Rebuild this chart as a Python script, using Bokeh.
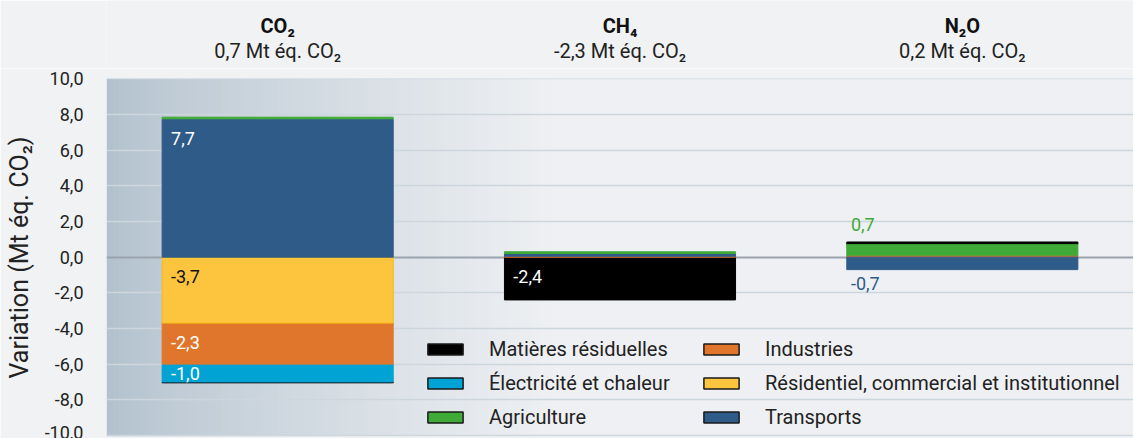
from bokeh.plotting import figure
from bokeh.layouts import column
from bokeh.models import Range1d, FixedTicker, Legend, LegendItem
from bokeh.core.properties import value
from bokeh.embed import file_html
from bokeh.resources import INLINE

# ---------------- data ----------------
gases = ["CO₂", "CH₄", "N₂O"]
gas_totals = [0.7, -2.3, 0.2]
sectors = ["Matières résiduelles", "Électricité et chaleur", "Agriculture",
           "Industries", "Résidentiel, commercial et institutionnel", "Transports"]
matieres = [-0.05, -2.4, 0.15]
electricite = [-1.0, 0.0, 0.0]
agriculture = [0.15, 0.15, 0.65]
industries = [-2.3, 0.05, 0.05]
residentiel = [-3.7, 0.0, 0.0]
transports = [7.7, 0.1, -0.7]
y_ticks = [-10, -8, -6, -4, -2, 0, 2, 4, 6, 8, 10]

values = {
    "Matières résiduelles": matieres,
    "Électricité et chaleur": electricite,
    "Agriculture": agriculture,
    "Industries": industries,
    "Résidentiel, commercial et institutionnel": residentiel,
    "Transports": transports,
}
colors = {
    "Matières résiduelles": "#000000",
    "Électricité et chaleur": "#00a3d4",
    "Agriculture": "#3faa37",
    "Industries": "#e0762b",
    "Résidentiel, commercial et institutionnel": "#fdc43e",
    "Transports": "#2f5b88",
}
edge_colors = dict(colors)
edge_colors["Résidentiel, commercial et institutionnel"] = "#f6bb12"
label_colors = {s: "#ffffff" for s in sectors}
label_colors["Résidentiel, commercial et institutionnel"] = "#111111"

pos_order = ["Industries", "Transports", "Agriculture", "Matières résiduelles",
             "Électricité et chaleur", "Résidentiel, commercial et institutionnel"]
neg_order = ["Résidentiel, commercial et institutionnel", "Industries",
             "Électricité et chaleur", "Matières résiduelles", "Transports", "Agriculture"]

FONT = "Roboto"
BG = "#f0f2f4"
BAR_W = 0.675
xs = [0.5, 1.5, 2.5]
Y_LO, Y_HI = -10.06, 10.02
x_range = Range1d(0, 3)

# ---------------- header strip ----------------
h = figure(frame_width=1027, frame_height=68, min_border_left=106, min_border_right=0,
           min_border_top=0, min_border_bottom=0, x_range=x_range, y_range=Range1d(0, 68),
           output_backend="svg", toolbar_location=None)
h.axis.visible = False
h.grid.visible = False
h.outline_line_color = None
h.border_fill_color = BG
h.background_fill_color = BG
subs = [("%.1f" % v).replace(".", ",") + " Mt éq. CO₂" for v in gas_totals]
h.text(x=xs, y=[43] * 3, text=gases, text_font=value(FONT), text_font_size="20px",
       text_font_style="bold", text_color="#111111", text_align="center", text_baseline="middle")
h.text(x=xs, y=[18] * 3, text=subs, text_font=value(FONT), text_font_size="20px",
       text_color="#222222", text_align="center", text_baseline="middle")

# ---------------- main chart ----------------
p = figure(frame_width=1027, frame_height=358, min_border_left=106, min_border_right=0,
           min_border_top=10, min_border_bottom=2,
           x_range=x_range, y_range=Range1d(Y_LO, Y_HI),
           output_backend="svg", toolbar_location=None)
p.border_fill_color = BG
p.background_fill_color = "#eef0f3"
p.outline_line_color = None

# gradient on the left of the plot area (decoration)
n = 70
c_left = (178, 193, 205)
c_right = (238, 240, 243)
gl, gr, gc = [], [], []
for i in range(n):
    e = (i / n) ** 0.8
    rgb = tuple(int(round(c_left[k] + (c_right[k] - c_left[k]) * e)) for k in range(3))
    gl.append(1.3 * i / n)
    gr.append(1.3 * (i + 1) / n + 0.002)
    gc.append("#%02x%02x%02x" % rgb)
p.quad(left=gl, right=gr, bottom=Y_LO, top=Y_HI, fill_color=gc, line_color=None, level="image")

# axes and grid
p.xaxis.visible = False
p.xgrid.visible = False
p.yaxis.ticker = FixedTicker(ticks=y_ticks)
p.yaxis.major_label_overrides = {float(t): ("%.1f" % t).replace(".", ",") for t in y_ticks}
p.yaxis.major_label_text_font = FONT
p.yaxis.major_label_text_font_size = "18px"
p.yaxis.major_label_text_color = "#222222"
p.yaxis.major_label_standoff = 17
p.yaxis.major_tick_line_color = None
p.yaxis.minor_tick_line_color = None
p.yaxis.axis_line_color = None
p.yaxis.axis_label = "Variation (Mt éq. CO₂)"
p.yaxis.axis_label_text_font = FONT
p.yaxis.axis_label_text_font_size = "25px"
p.yaxis.axis_label_text_font_style = "normal"
p.yaxis.axis_label_text_color = "#222222"
p.yaxis.axis_label_standoff = 8
p.ygrid.ticker = FixedTicker(ticks=[t for t in y_ticks if t != 0])
p.ygrid.grid_line_color = "#cdd5dd"
p.ygrid.grid_line_width = 1.5
p.hspan(y=[0], line_color="#9aa3ad", line_width=2)

# stacked bars
pos_base = [0.0, 0.0, 0.0]
neg_base = [0.0, 0.0, 0.0]
segments = {s: [None, None, None] for s in sectors}
for s in pos_order:
    for g in range(3):
        v = values[s][g]
        if v > 0:
            segments[s][g] = (pos_base[g], pos_base[g] + v)
            pos_base[g] += v
for s in neg_order:
    for g in range(3):
        v = values[s][g]
        if v < 0:
            segments[s][g] = (neg_base[g] + v, neg_base[g])
            neg_base[g] += v

for s in sectors:
    bx, bb, bt = [], [], []
    for g in range(3):
        if segments[s][g] is not None:
            bx.append(xs[g]); bb.append(segments[s][g][0]); bt.append(segments[s][g][1])
    p.vbar(x=bx, bottom=bb, top=bt, width=BAR_W, fill_color=colors[s],
           line_color=edge_colors[s], line_width=1)

# value labels
in_x, in_y, in_t, in_c = [], [], [], []
out_x, out_y, out_t, out_c = [], [], [], []
for s in sectors:
    for g in range(3):
        v = values[s][g]
        if abs(v) < 0.5:
            continue
        txt = ("%.1f" % v).replace(".", ",")
        b, t = segments[s][g]
        left = xs[g] - BAR_W / 2
        if abs(v) >= 1.0:
            in_x.append(left + 0.026)
            in_y.append(t - min(1.07, abs(v) / 2))
            in_t.append(txt); in_c.append(label_colors[s])
        else:
            out_x.append(left + 0.012)
            out_y.append(pos_base[g] + 1.0 if v > 0 else neg_base[g] - 0.78)
            out_t.append(txt); out_c.append(colors[s])
p.text(x=in_x, y=in_y, text=in_t, text_color=in_c, text_font=value(FONT),
       text_font_size="18px", text_baseline="middle", text_align="left")
p.text(x=out_x, y=out_y, text=out_t, text_color=out_c, text_font=value(FONT),
       text_font_size="18px", text_baseline="middle", text_align="left")

# legend (two columns); swatch-only renderers hold no drawable point
nan = float("nan")
leg_rs = {}
for s in sectors:
    leg_rs[s] = p.vbar(x=[nan], bottom=[nan], top=[nan], width=BAR_W, fill_color=colors[s],
                       line_color="#1a1a1a", line_width=1.5)
cols = [sectors[:3], sectors[3:]]
locs = [(317, 7), (593, 7)]
for col, loc in zip(cols, locs):
    lg = Legend(items=[LegendItem(label=s, renderers=[leg_rs[s]]) for s in col], location=loc)
    lg.label_text_font = FONT
    lg.label_text_font_size = "20px"
    lg.label_text_color = "#222222"
    lg.glyph_width = 44
    lg.glyph_height = 14
    lg.label_height = 20
    lg.label_standoff = 22
    lg.spacing = 10
    lg.padding = 0
    lg.margin = 0
    lg.border_line_alpha = 0
    lg.background_fill_alpha = 0
    p.add_layout(lg, "center")

layout = column(h, p, spacing=0)
open("out.html", "w").write(file_html(layout, INLINE))
